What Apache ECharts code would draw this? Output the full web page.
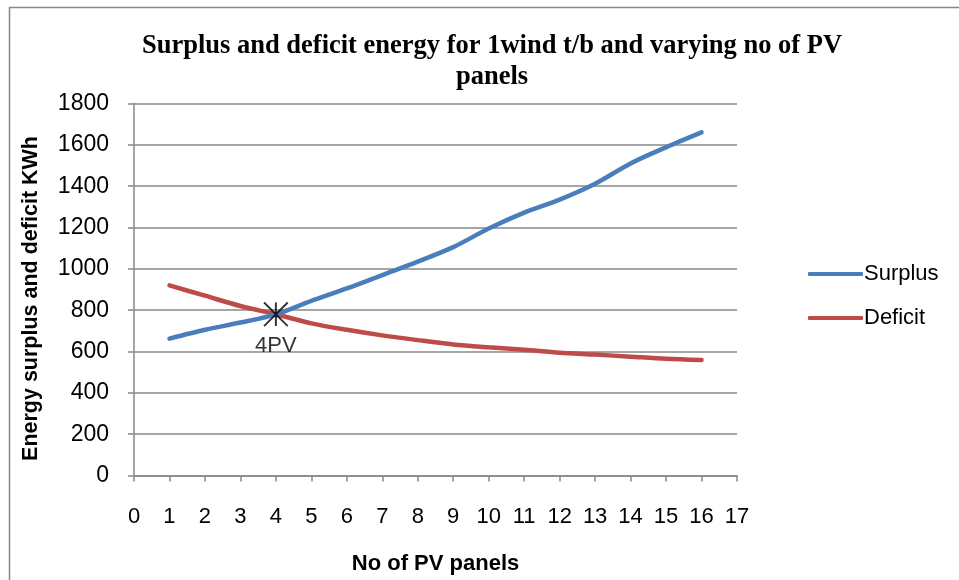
<!DOCTYPE html>
<html>
<head>
<meta charset="utf-8">
<script src="https://cdn.jsdelivr.net/npm/echarts@6/dist/echarts.min.js"></script>
<style>
html,body{margin:0;padding:0;background:#fff;}
#chart{width:959px;height:580px;}
</style>
</head>
<body>
<div id="chart"></div>
<script>
// ---- data ----
const pvPanels = [1, 2, 3, 4, 5, 6, 7, 8, 9, 10, 11, 12, 13, 14, 15, 16];
const surplus = [662, 705, 740, 780, 845, 905, 970, 1035, 1105, 1195, 1272, 1335, 1412, 1510, 1588, 1660];
const deficit = [920, 870, 820, 780, 736, 705, 678, 655, 634, 620, 608, 594, 585, 575, 565, 559];
const markerPoint = [4, 780];
const markerLabel = '4PV';
const seriesNames = ['Surplus', 'Deficit'];
const titleText = 'Surplus and deficit energy for 1wind t/b and varying no of PV\npanels';
const xAxisTitle = 'No of PV panels';
const yAxisTitle = 'Energy surplus and deficit KWh';

const pairs = (xs, ys) => xs.map((x, i) => [x, ys[i]]);
const labelFont = 'Liberation Sans, Arial, sans-serif';
const asterisk = 'path://M-1,-12 L1,-12 L1,12 L-1,12 Z M-12.7,-11.3 L-11.3,-12.7 L12.7,11.3 L11.3,12.7 Z M11.3,-12.7 L12.7,-11.3 L-11.3,12.7 L-12.7,11.3 Z';

const chart = echarts.init(document.getElementById('chart'), null, {renderer: 'canvas'});
chart.setOption({
  backgroundColor: '#ffffff',
  animation: false,
  graphic: [{
    type: 'rect', z: -10,
    shape: {x: 9.5, y: 7.5, width: 1000, height: 700},
    style: {fill: 'none', stroke: '#888888', lineWidth: 1.5}
  }],
  title: {
    text: titleText,
    left: 487, top: 26, textAlign: 'center',
    textStyle: {
      fontFamily: 'Liberation Serif, Times New Roman, serif',
      fontWeight: 'bold', fontSize: 26.5, lineHeight: 31, color: '#000'
    }
  },
  legend: {
    orient: 'vertical',
    left: 803, top: 258,
    itemWidth: 55, itemHeight: 4, itemGap: 22,
    icon: 'roundRect',
    data: seriesNames,
    textStyle: {fontFamily: labelFont, fontSize: 22, color: '#000', padding: [0, 0, 0, -4]}
  },
  grid: {left: 134, right: 222, top: 103.5, bottom: 104.5, containLabel: false, outerBoundsMode: 'none'},
  xAxis: {
    type: 'value', min: 0, max: 17, interval: 1,
    name: xAxisTitle, nameLocation: 'middle', nameGap: 77,
    nameTextStyle: {fontFamily: labelFont, fontWeight: 'bold', fontSize: 22, color: '#000'},
    axisLine: {lineStyle: {color: '#888888', width: 1.5}},
    axisTick: {show: true, length: 6, inside: false, lineStyle: {color: '#888888', width: 1.5}},
    axisLabel: {fontFamily: labelFont, fontSize: 22, color: '#000', margin: 30},
    splitLine: {show: false}
  },
  yAxis: {
    type: 'value', min: 0, max: 1800, interval: 200,
    name: yAxisTitle, nameLocation: 'middle', nameGap: 92, nameRotate: 90,
    nameTextStyle: {fontFamily: labelFont, fontWeight: 'bold', fontSize: 21.5, color: '#000', padding: [0, 18, 0, 0]},
    axisLine: {show: true, lineStyle: {color: '#888888', width: 1.5}},
    axisTick: {show: true, length: 6, lineStyle: {color: '#888888', width: 1.5}},
    axisLabel: {fontFamily: labelFont, fontSize: 23, color: '#000', margin: 25, formatter: v => String(v)},
    splitLine: {show: true, lineStyle: {color: '#888888', width: 1.5}}
  },
  series: [
    {
      name: seriesNames[0], type: 'line', smooth: 0.3,
      data: pairs(pvPanels, surplus), showSymbol: false, symbol: 'none',
      lineStyle: {color: '#4a7ebb', width: 4.5, cap: 'round'},
      itemStyle: {color: '#4a7ebb'}, z: 3
    },
    {
      name: seriesNames[1], type: 'line', smooth: 0.3,
      data: pairs(pvPanels, deficit), showSymbol: false, symbol: 'none',
      lineStyle: {color: '#be4b48', width: 4.5, cap: 'round'},
      itemStyle: {color: '#be4b48'}, z: 2
    },
    {
      name: 'marker', type: 'scatter',
      data: [markerPoint],
      symbol: asterisk, symbolSize: [25, 25],
      itemStyle: {color: '#000'}, z: 5,
      label: {
        show: true, position: 'bottom', distance: 8,
        formatter: markerLabel,
        fontFamily: labelFont, fontSize: 22, color: '#000'
      }
    }
  ]
});
</script>
</body>
</html>
